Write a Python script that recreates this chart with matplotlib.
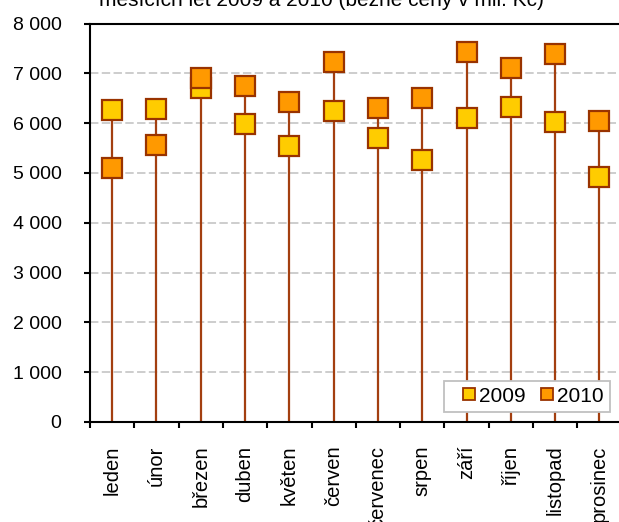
import matplotlib
matplotlib.use('Agg')
import matplotlib.pyplot as plt
from matplotlib.lines import Line2D
from matplotlib.ticker import FuncFormatter
import numpy as np

plt.rcParams['font.family'] = ['Liberation Sans', 'DejaVu Sans']

months = ['leden', 'únor', 'březen', 'duben', 'květen', 'červen',
          'červenec', 'srpen', 'září', 'říjen', 'listopad', 'prosinec']
y2009 = [6260, 6280, 6700, 5980, 5540, 6240, 5700, 5260, 6100, 6320, 6020, 4920]
y2010 = [5100, 5560, 6900, 6740, 6420, 7220, 6300, 6500, 7420, 7110, 7380, 6040]
yticks = [0, 1000, 2000, 3000, 4000, 5000, 6000, 7000, 8000]

c2009 = '#FFCC00'
c2010 = '#FF9900'
edge = '#993300'
stem = '#A33F10'

fig = plt.figure(figsize=(6.19, 5.22), dpi=100)
ax = fig.add_axes([90/619, 1 - 422/522, 531.6/619, 398.5/522])

x = np.arange(len(months))
tops = np.maximum(y2009, y2010)
ax.vlines(x, 0, tops, color=stem, lw=1.6, zorder=2)
ax.plot(x, y2009, ls='none', marker='s', ms=15, mfc=c2009, mec=edge, mew=1.6, zorder=3)
ax.plot(x, y2010, ls='none', marker='s', ms=15, mfc=c2010, mec=edge, mew=1.6, zorder=4)

ax.set_xlim(-0.5, len(months) - 0.5)
ax.set_ylim(0, 8000)
ax.set_yticks(yticks)
ax.yaxis.set_major_formatter(FuncFormatter(lambda v, p: f'{v:,.0f}'.replace(',', ' ')))
for v in yticks[1:-1]:
    ax.axhline(v, color='#C0C0C0', lw=1.1, ls=(0, (5.5, 2.2)), zorder=1)

ax.set_xticks(x)
ax.set_xticklabels(months, rotation=90, fontsize=14.5)
ax.set_xticks(np.arange(len(months) + 1) - 0.5, minor=True)
ax.tick_params(axis='x', which='major', length=0, pad=17)
ax.tick_params(axis='x', which='minor', length=4.5, width=1.5, direction='out')
ax.tick_params(axis='y', length=4.5, width=1.5, direction='out', pad=16, labelsize=14)

for s in ['left', 'bottom', 'top']:
    ax.spines[s].set_linewidth(1.5)
    ax.spines[s].set_color('black')
ax.spines['right'].set_visible(False)

handles = [Line2D([], [], ls='none', marker='s', ms=8.5, mfc=c2009, mec=edge, mew=1.3),
           Line2D([], [], ls='none', marker='s', ms=8.5, mfc=c2010, mec=edge, mew=1.3)]
leg = ax.legend(handles, ['2009', '2010'], ncol=2, loc='lower right',
                bbox_to_anchor=(0.978, 0.025), borderaxespad=0, fontsize=15,
                fancybox=False, framealpha=1, edgecolor='#C0C0C0',
                handlelength=1.76, handletextpad=-0.4, columnspacing=0.16,
                borderpad=0.3)
leg.get_frame().set_linewidth(1.3)

fig.text(321/619, 1 - 5.5/522, 'měsících let 2009 a 2010 (běžné ceny v mil. Kč)',
         ha='center', va='baseline', fontsize=15)

fig.savefig('out.png', dpi=100)
